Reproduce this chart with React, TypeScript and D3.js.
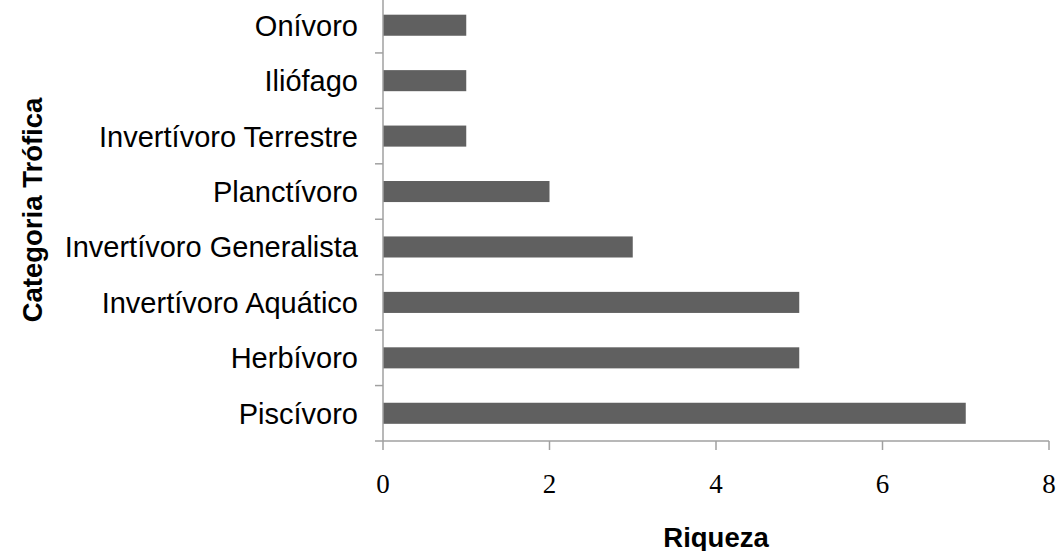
import React from "react";
import * as d3 from "d3";

const categories = [
  "Onívoro",
  "Iliófago",
  "Invertívoro Terrestre",
  "Planctívoro",
  "Invertívoro Generalista",
  "Invertívoro Aquático",
  "Herbívoro",
  "Piscívoro",
];
const values = [1, 1, 1, 2, 3, 5, 5, 7];
const xTicks = [0, 2, 4, 6, 8];
const xTitle = "Riqueza";
const yTitle = "Categoria Trófica";

const W = 1059;
const H = 551;
const left = 383;
const right = 1049;
const top = -2.5;
const bottom = 441;
const axisColor = "#a0a0a0";
const barColor = "#606060";

export default function App() {
  const x = d3.scaleLinear().domain([0, 8]).range([left, right]);
  const y = d3
    .scaleBand<string>()
    .domain(categories)
    .range([top, bottom])
    .paddingInner(0.62)
    .paddingOuter(0.31);
  const step = y.step();
  const boundaries = d3.range(categories.length + 1).map((i) => top + i * step);

  return (
    <svg
      width={W}
      height={H}
      style={{ position: "absolute", left: 0, top: 0, background: "#fff" }}
    >
      <rect x={0} y={0} width={W} height={H} fill="#fff" />
      {categories.map((c, i) => (
        <rect
          key={c}
          x={x(0)}
          y={y(c)!}
          width={x(values[i]) - x(0)}
          height={y.bandwidth()}
          fill={barColor}
        />
      ))}
      {/* y axis */}
      <line x1={left} x2={left} y1={top} y2={bottom} stroke={axisColor} strokeWidth={1.5} />
      {boundaries.slice(1).map((b, i) => (
        <line key={i} x1={left - 8} x2={left} y1={b} y2={b} stroke={axisColor} strokeWidth={1.5} />
      ))}
      {/* x axis */}
      <line x1={left} x2={right} y1={bottom} y2={bottom} stroke={axisColor} strokeWidth={1.5} />
      {xTicks.map((t) => (
        <g key={t}>
          <line x1={x(t)} x2={x(t)} y1={bottom} y2={bottom + 9} stroke={axisColor} strokeWidth={1.5} />
          <text
            x={x(t)}
            y={493}
            textAnchor="middle"
            fontFamily="'Liberation Serif', 'Times New Roman', serif"
            fontSize={27}
            fill="#000"
          >
            {t}
          </text>
        </g>
      ))}
      {categories.map((c) => (
        <text
          key={c}
          x={358}
          y={y(c)! + y.bandwidth() / 2}
          dy="0.36em"
          textAnchor="end"
          fontFamily="'Liberation Sans', Arial, sans-serif"
          fontSize={29}
          fill="#000"
        >
          {c}
        </text>
      ))}
      <text
        x={(left + right) / 2}
        y={547}
        textAnchor="middle"
        fontFamily="'Liberation Sans', Arial, sans-serif"
        fontWeight="bold"
        fontSize={27.5}
        fill="#000"
      >
        {xTitle}
      </text>
      <text
        transform={`translate(42,210) rotate(-90)`}
        textAnchor="middle"
        fontFamily="'Liberation Sans', Arial, sans-serif"
        fontWeight="bold"
        fontSize={27.5}
        fill="#000"
      >
        {yTitle}
      </text>
    </svg>
  );
}
